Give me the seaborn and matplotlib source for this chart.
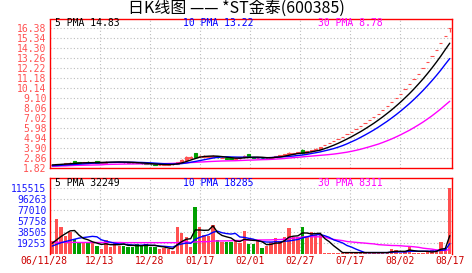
import numpy as np
import matplotlib
matplotlib.use('Agg')
import matplotlib.pyplot as plt
import matplotlib.transforms as mtransforms
import seaborn as sns

# ---------------- data ----------------
title_text = '日K线图 —— *ST金泰(600385)'
date_labels = ['06/11/28', '12/13', '12/28', '01/17', '02/01', '02/27', '07/17', '08/02', '08/17']
price_ticks = [1.82, 2.86, 3.90, 4.94, 5.98, 7.02, 8.06, 9.10, 10.14, 11.18, 12.22, 13.26, 14.30, 15.34, 16.38]
volume_ticks = [19253, 38505, 57758, 77010, 96263, 115515]
price_legend = ['5 PMA 14.83', '10 PMA 13.22', '30 PMA 8.78']
volume_legend = ['5 PMA 32249', '10 PMA 18285', '30 PMA 8311']

open_ = [
    2.15, 2.19, 2.23, 2.27, 2.31, 2.56, 2.48, 2.38, 2.50, 2.40,
    2.56, 2.42, 2.42, 2.46, 2.47, 2.45, 2.47, 2.44, 2.42, 2.39,
    2.36, 2.33, 2.28, 2.23, 2.17, 2.19, 2.21, 2.23, 2.28, 2.50,
    2.72, 2.94, 3.38, 3.06, 3.04, 3.02, 3.00, 3.08, 2.88, 2.92,
    2.86, 2.80, 2.86, 3.04, 3.30, 3.00, 2.88, 2.94, 2.85, 2.90,
    2.98, 3.10, 3.18, 3.27, 3.36, 3.42, 3.72, 3.45, 3.58, 3.72,
    3.88, 4.20, 4.41, 4.63, 4.86, 5.10, 5.35, 5.62, 5.90, 6.19,
    6.50, 6.82, 7.16, 7.52, 7.89, 8.29, 8.70, 9.13, 9.59, 10.07,
    10.57, 11.10, 11.65, 12.23, 12.84, 13.48, 14.15, 14.86, 15.60, 16.38]
high = [
    2.22, 2.26, 2.31, 2.34, 2.46, 2.60, 2.50, 2.47, 2.53, 2.48,
    2.60, 2.47, 2.55, 2.50, 2.52, 2.50, 2.49, 2.46, 2.44, 2.41,
    2.38, 2.35, 2.30, 2.25, 2.22, 2.24, 2.26, 2.29, 2.50, 2.74,
    3.10, 3.08, 3.42, 3.25, 3.16, 3.12, 3.20, 3.12, 2.96, 2.95,
    2.89, 2.89, 2.98, 3.22, 3.33, 3.03, 2.97, 2.96, 2.93, 3.01,
    3.13, 3.21, 3.29, 3.48, 3.46, 3.55, 3.80, 3.62, 3.76, 3.90,
    4.05, 4.20, 4.41, 4.63, 4.86, 5.10, 5.35, 5.62, 5.90, 6.19,
    6.50, 6.82, 7.16, 7.52, 7.89, 8.29, 8.70, 9.13, 9.59, 10.07,
    10.57, 11.10, 11.65, 12.23, 12.84, 13.48, 14.15, 14.86, 15.60, 16.38]
low = [
    2.13, 2.17, 2.21, 2.25, 2.29, 2.36, 2.36, 2.36, 2.38, 2.38,
    2.40, 2.40, 2.40, 2.44, 2.45, 2.43, 2.42, 2.40, 2.36, 2.33,
    2.30, 2.26, 2.20, 2.16, 2.15, 2.17, 2.19, 2.21, 2.26, 2.48,
    2.70, 2.90, 3.00, 3.02, 3.00, 2.98, 2.97, 2.93, 2.85, 2.81,
    2.78, 2.78, 2.84, 3.02, 3.00, 2.90, 2.86, 2.84, 2.83, 2.88,
    2.96, 3.08, 3.16, 3.25, 3.34, 3.40, 3.35, 3.42, 3.56, 3.70,
    3.86, 4.20, 4.41, 4.63, 4.86, 5.10, 5.35, 5.62, 5.90, 6.19,
    6.50, 6.82, 7.16, 7.52, 7.89, 8.29, 8.70, 9.13, 9.59, 10.07,
    10.57, 11.10, 11.65, 12.23, 12.84, 13.48, 14.15, 14.86, 15.60, 16.02]
close = [
    2.20, 2.24, 2.28, 2.32, 2.42, 2.38, 2.38, 2.44, 2.40, 2.46,
    2.42, 2.45, 2.48, 2.48, 2.50, 2.47, 2.44, 2.41, 2.38, 2.35,
    2.32, 2.28, 2.22, 2.18, 2.20, 2.22, 2.24, 2.27, 2.45, 2.70,
    2.95, 3.02, 3.03, 3.15, 3.10, 3.08, 3.12, 2.96, 2.92, 2.84,
    2.80, 2.86, 2.95, 3.12, 3.03, 2.92, 2.94, 2.86, 2.90, 2.98,
    3.10, 3.18, 3.26, 3.40, 3.42, 3.52, 3.40, 3.58, 3.72, 3.86,
    4.00, 4.20, 4.41, 4.63, 4.86, 5.10, 5.35, 5.62, 5.90, 6.19,
    6.50, 6.82, 7.16, 7.52, 7.89, 8.29, 8.70, 9.13, 9.59, 10.07,
    10.57, 11.10, 11.65, 12.23, 12.84, 13.48, 14.15, 14.86, 15.60, 16.38]

ma5 = [
    2.17, 2.20, 2.23, 2.26, 2.29, 2.33, 2.36, 2.39, 2.40, 2.41,
    2.42, 2.43, 2.44, 2.46, 2.47, 2.48, 2.47, 2.46, 2.44, 2.41,
    2.38, 2.35, 2.31, 2.27, 2.24, 2.22, 2.21, 2.22, 2.28, 2.38,
    2.52, 2.68, 2.83, 2.97, 3.05, 3.08, 3.10, 3.08, 3.04, 2.98,
    2.93, 2.88, 2.87, 2.91, 2.95, 2.98, 2.99, 2.97, 2.93, 2.92,
    2.96, 3.00, 3.08, 3.18, 3.27, 3.36, 3.40, 3.46, 3.53, 3.62,
    3.71, 3.87, 4.04, 4.22, 4.42, 4.64, 4.87, 5.11, 5.37, 5.63,
    5.91, 6.21, 6.51, 6.84, 7.18, 7.54, 7.91, 8.31, 8.72, 9.16,
    9.61, 10.09, 10.60, 11.12, 11.68, 12.26, 12.87, 13.51, 14.19, 14.85]
ma10 = [
    2.08, 2.10, 2.13, 2.16, 2.19, 2.22, 2.25, 2.28, 2.31, 2.35,
    2.37, 2.40, 2.42, 2.43, 2.44, 2.45, 2.45, 2.45, 2.45, 2.44,
    2.43, 2.41, 2.39, 2.36, 2.33, 2.30, 2.28, 2.27, 2.27, 2.31,
    2.37, 2.45, 2.53, 2.62, 2.71, 2.80, 2.89, 2.96, 3.00, 3.02,
    3.00, 2.99, 2.98, 2.98, 2.97, 2.95, 2.93, 2.92, 2.92, 2.94,
    2.97, 3.00, 3.03, 3.06, 3.10, 3.16, 3.20, 3.27, 3.36, 3.44,
    3.53, 3.64, 3.75, 3.87, 4.02, 4.18, 4.37, 4.58, 4.79, 5.03,
    5.28, 5.54, 5.81, 6.10, 6.41, 6.72, 7.06, 7.41, 7.78, 8.17,
    8.57, 9.00, 9.45, 9.92, 10.42, 10.94, 11.48, 12.05, 12.66, 13.25]
ma30 = [
    2.04, 2.05, 2.06, 2.07, 2.10, 2.12, 2.13, 2.14, 2.15, 2.16,
    2.17, 2.18, 2.22, 2.23, 2.24, 2.25, 2.26, 2.27, 2.27, 2.28,
    2.28, 2.29, 2.29, 2.30, 2.30, 2.31, 2.32, 2.33, 2.35, 2.37,
    2.39, 2.42, 2.44, 2.47, 2.49, 2.52, 2.54, 2.56, 2.58, 2.59,
    2.60, 2.61, 2.63, 2.65, 2.67, 2.68, 2.70, 2.72, 2.73, 2.75,
    2.78, 2.81, 2.84, 2.89, 2.93, 2.97, 3.01, 3.05, 3.09, 3.13,
    3.17, 3.21, 3.25, 3.30, 3.36, 3.43, 3.50, 3.59, 3.69, 3.80,
    3.93, 4.06, 4.20, 4.34, 4.51, 4.69, 4.88, 5.09, 5.31, 5.55,
    5.79, 6.06, 6.34, 6.63, 6.95, 7.28, 7.64, 8.01, 8.41, 8.80]

volume = [
    23000, 62000, 48000, 32000, 38500, 26600, 20700, 19000, 20700, 20700,
    14700, 8900, 24800, 13000, 20700, 14700, 14700, 13000, 13000, 17700,
    14700, 17700, 13000, 13000, 8900, 10000, 8300, 5900, 48400, 36700,
    30700, 13000, 82800, 48400, 33700, 31900, 51400, 24800, 21800, 21800,
    21800, 24800, 20000, 40800, 17200, 17200, 23000, 10000, 14700, 20700,
    27800, 23600, 29600, 46600, 29600, 30700, 48400, 29600, 38500, 33000,
    33000, 2600, 2400, 2300, 2500, 2400, 2600, 2500, 2300, 2400,
    2600, 2500, 2400, 2600, 2500, 2700, 8900, 7000, 2500, 2800,
    14000, 2600, 2400, 2500, 2700, 7500, 7800, 21500, 8600, 115515]
vma5 = [
    19000, 25000, 31000, 36000, 40700, 41400, 33200, 27400, 25100, 21500,
    19200, 16800, 18000, 16400, 16400, 16400, 17600, 15200, 15200, 14600,
    14600, 15200, 15200, 15200, 13500, 12500, 10600, 9200, 16300, 21900,
    26000, 26900, 42300, 42300, 41700, 42000, 49600, 38000, 32700, 30300,
    28300, 23000, 22000, 25800, 24900, 24000, 23600, 21600, 16400, 17100,
    19200, 19400, 23300, 29700, 31400, 32000, 37000, 37000, 35400, 36000,
    36500, 27300, 21800, 14600, 8600, 2500, 2500, 2500, 2500, 2500,
    2500, 2500, 2500, 2500, 2500, 2500, 3800, 4700, 4700, 4700,
    7000, 5800, 4900, 4900, 4800, 3500, 4600, 8400, 9600, 32249]
vma10 = [
    14000, 17000, 20000, 22000, 24000, 26000, 28000, 29000, 30000, 31100,
    30300, 25000, 22700, 20800, 19000, 17800, 17200, 16600, 15800, 15500,
    15500, 16400, 15200, 15200, 14000, 13600, 12900, 12200, 15800, 17700,
    19300, 18800, 25800, 29300, 31800, 34000, 38300, 40200, 37500, 36000,
    35100, 36300, 30000, 29300, 27600, 26200, 23300, 21800, 21100, 21000,
    21600, 21500, 22500, 23000, 24300, 25600, 28200, 30100, 32500, 33700,
    34300, 32200, 29400, 25000, 22300, 19500, 14900, 12200, 8600, 5500,
    2500, 2500, 2500, 2500, 2500, 2500, 3100, 3600, 3600, 3600,
    4800, 4800, 4800, 4800, 4800, 5300, 5100, 6600, 7200, 18285]
vma30 = [
    20500, 20500, 20500, 20500, 20500, 20500, 20300, 20300, 20300, 20300,
    20300, 20300, 20300, 20300, 20300, 20300, 20000, 20000, 20000, 20000,
    20000, 20000, 20000, 20000, 20000, 20000, 20000, 20000, 20000, 21400,
    21700, 20100, 21200, 21800, 21600, 21800, 22800, 23000, 23000, 23100,
    23300, 23800, 23700, 24600, 24500, 24600, 24800, 24700, 24800, 24900,
    25300, 25500, 26100, 27200, 27900, 28600, 29900, 30700, 30400, 30300,
    30300, 30000, 27300, 25700, 24600, 23600, 22000, 21200, 20500, 19800,
    19200, 18400, 17800, 16500, 16000, 15500, 15000, 14900, 14500, 13800,
    13400, 12700, 11800, 10300, 9400, 8600, 7300, 7000, 6000, 8311]

# ---------------- style ----------------
sns.set_theme(style='white')
plt.rcParams['font.family'] = ['DejaVu Sans Mono', 'DejaVu Sans']

RED = '#ff5050'
GREEN = '#00a000'
BORDER = '#ff0000'
GRID = '#bdbdbd'

W, H = 472, 273
fig = plt.figure(figsize=(W / 100, H / 100), dpi=100, facecolor='white')
ax1 = fig.add_axes([50 / W, 1 - 168.3 / H, 402 / W, (168.3 - 18.5) / H])
ax2 = fig.add_axes([50 / W, 1 - 254.0 / H, 402 / W, (254.0 - 177.5) / H])

n = len(close)
x = np.arange(n)
o = np.array(open_); c = np.array(close); hi = np.array(high); lo = np.array(low)
up = c >= o
cols = np.where(up, RED, GREEN)

def px2data(p):
    return (p - 50) / 402 * n - 0.5

grid_px = [100, 150, 200, 250, 300, 350, 400]
label_px = [44, 100, 150, 200, 250, 300, 350, 400, 450]

# ---------------- price panel ----------------
ax1.set_xlim(-0.5, n - 0.5)
ax1.set_ylim(price_ticks[0], price_ticks[0] + 15 * (price_ticks[1] - price_ticks[0]))
for v in price_ticks[1:]:
    ax1.axhline(v, color=GRID, lw=0.8, ls=(0, (1, 2)), zorder=0)
for p in grid_px:
    ax1.axvline(px2data(p), color=GRID, lw=0.8, ls=(0, (1, 2)), zorder=0)

ax1.vlines(x, lo, hi, colors=cols, lw=0.9, zorder=2)
ax1.bar(x, np.abs(c - o), bottom=np.minimum(o, c), width=0.72, color=cols,
        edgecolor=cols, linewidth=0.8, zorder=3)

sns.lineplot(x=x, y=ma30, ax=ax1, color='#ff00ff', lw=1.0, zorder=4, legend=False)
sns.lineplot(x=x, y=ma10, ax=ax1, color='#0000ff', lw=1.0, zorder=5, legend=False)
sns.lineplot(x=x, y=ma5, ax=ax1, color='#000000', lw=1.0, zorder=6, legend=False)

ax1.set_yticks(price_ticks)
ax1.set_yticklabels(['%.2f' % v for v in price_ticks])
ax1.set_xticks([])
ax1.tick_params(axis='y', length=0, pad=2.5, labelsize=7, labelcolor=RED)
ax1.set_xlabel(''); ax1.set_ylabel('')

for side in ['top', 'right', 'bottom']:
    ax1.spines[side].set_color(BORDER); ax1.spines[side].set_linewidth(1.0)
ax1.spines['left'].set_color(BORDER); ax1.spines['left'].set_linewidth(1.0)
ax1.spines['left'].set_linestyle((0, (1, 1)))

for txt, xf, col in zip(price_legend, [0.0124, 0.331, 0.667], ['black', '#0000ff', '#ff00ff']):
    ax1.text(xf, 0.968, txt, transform=ax1.transAxes, ha='left', va='center',
             fontsize=7, color=col, family='DejaVu Sans Mono', zorder=10)

# ---------------- volume panel ----------------
vol = np.array(volume)
ax2.set_xlim(-0.5, n - 0.5)
ax2.set_ylim(0, volume_ticks[-1] * 7 / 6)
for v in volume_ticks:
    ax2.axhline(v, color=GRID, lw=0.8, ls=(0, (1, 2)), zorder=0)
for p in grid_px:
    ax2.axvline(px2data(p), color=GRID, lw=0.8, ls=(0, (1, 2)), zorder=0)

ax2.bar(x, vol, width=0.75, color=cols, linewidth=0, zorder=2)
sns.lineplot(x=x, y=vma30, ax=ax2, color='#ff00ff', lw=1.0, zorder=4, legend=False)
sns.lineplot(x=x, y=vma10, ax=ax2, color='#0000ff', lw=1.0, zorder=5, legend=False)
sns.lineplot(x=x, y=vma5, ax=ax2, color='#000000', lw=1.0, zorder=6, legend=False)

ax2.set_yticks(volume_ticks)
ax2.set_yticklabels([str(v) for v in volume_ticks])
ax2.set_xticks([])
ax2.tick_params(axis='y', length=0, pad=2.5, labelsize=7, labelcolor='#1a1aff')
ax2.set_xlabel(''); ax2.set_ylabel('')

for side in ['top', 'right']:
    ax2.spines[side].set_color(BORDER); ax2.spines[side].set_linewidth(1.0)
ax2.spines['bottom'].set_visible(False)
ax2.spines['left'].set_color(BORDER); ax2.spines['left'].set_linewidth(1.0)
ax2.spines['left'].set_linestyle((0, (1, 1)))

for txt, xf, col in zip(volume_legend, [0.0124, 0.331, 0.667], ['black', '#0000ff', '#ff00ff']):
    ax2.text(xf, 0.924, txt, transform=ax2.transAxes, ha='left', va='center',
             fontsize=7, color=col, family='DejaVu Sans Mono', zorder=10)

trans = mtransforms.blended_transform_factory(ax2.transData, ax2.transAxes)
for lab, p in zip(date_labels, label_px):
    ax2.text(px2data(p), -0.098, lab, transform=trans, ha='center', va='center',
             fontsize=7, color='#cc0000', family='DejaVu Sans Mono', clip_on=False)

fig.text(236.5 / W, 1 - 9.5 / H, title_text, ha='center', va='center', fontsize=11.5,
         color='black', family=['Noto Sans CJK SC', 'DejaVu Sans'])

fig.savefig('out.png', dpi=100, facecolor='white')
